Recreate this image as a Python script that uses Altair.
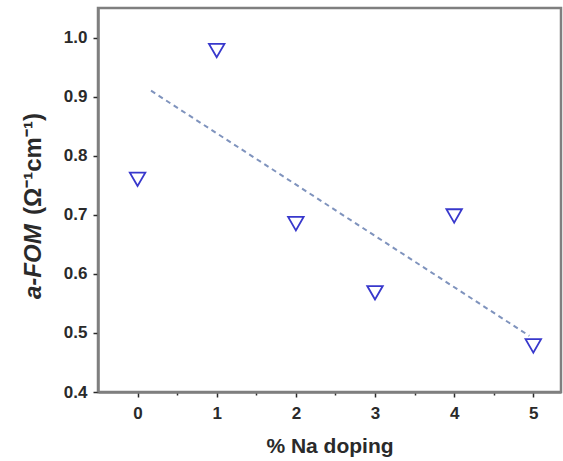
import altair as alt
import pandas as pd

# Data
na_doping = [0, 1, 2, 3, 4, 5]
a_fom = [0.760, 0.978, 0.685, 0.568, 0.698, 0.478]

trend_x = [0.17, 4.95]
trend_y = [0.910, 0.495]

x_tick_values = [0, 0.5, 1, 1.5, 2, 2.5, 3, 3.5, 4, 4.5, 5]
y_tick_values = [0.4, 0.45, 0.5, 0.55, 0.6, 0.65, 0.7, 0.75, 0.8, 0.85, 0.9, 0.95, 1.0]

x_title = "% Na doping"
y_title_italic = "a-FOM"
y_title_rest = "(Ω⁻¹cm⁻¹)"

pts = pd.DataFrame({"x": na_doping, "y": a_fom})
trend = pd.DataFrame({"x": trend_x, "y": trend_y})

FONT = "Liberation Sans"
AXIS_GRAY = "#7f7f7f"
LABEL = "#2a2a2a"

xscale = alt.Scale(domain=[-0.5, 5.35], nice=False, zero=False)
yscale = alt.Scale(domain=[0.4, 1.05], nice=False, zero=False)

xminor = "abs(datum.value - round(datum.value)) > 0.01"
yminor = "abs(datum.value*10 - round(datum.value*10)) > 0.01"

xaxis = alt.Axis(
    values=x_tick_values,
    labelExpr=f"{xminor} ? '' : format(datum.value, 'd')",
    tickSize={"condition": {"test": xminor, "value": 3}, "value": 5},
    tickColor=LABEL, tickWidth=1.5,
    domainColor=AXIS_GRAY, domainWidth=2.5,
    labelFont=FONT, labelFontSize=17, labelFontWeight="bold", labelColor=LABEL,
    labelPadding=8,
    title=x_title, titleFont=FONT, titleFontSize=21, titleFontWeight="bold",
    titleColor=LABEL, titlePadding=14,
    grid=False,
)
yaxis = alt.Axis(
    values=y_tick_values,
    labelExpr=f"{yminor} ? '' : format(datum.value, '.1f')",
    tickSize={"condition": {"test": yminor, "value": 3}, "value": 5},
    tickColor=LABEL, tickWidth=1.5,
    domainColor=AXIS_GRAY, domainWidth=2.5,
    labelFont=FONT, labelFontSize=17, labelFontWeight="bold", labelColor=LABEL,
    labelPadding=6,
    title=None,
    grid=False,
)

line = alt.Chart(trend).mark_line(
    color="#7f93bd", strokeWidth=2, strokeDash=[5, 4]
).encode(
    x=alt.X("x:Q", scale=xscale, axis=xaxis),
    y=alt.Y("y:Q", scale=yscale, axis=yaxis),
)

points = alt.Chart(pts).mark_point(
    shape="triangle-down", size=240, filled=False, color="#3838cc", strokeWidth=1.8, opacity=1
).encode(
    x=alt.X("x:Q", scale=xscale),
    y=alt.Y("y:Q", scale=yscale),
)

t1 = alt.Chart(pd.DataFrame({"t": [y_title_italic]})).mark_text(
    angle=270, align="left", baseline="middle", font=FONT, fontSize=24,
    fontWeight="bold", fontStyle="italic", color=LABEL
).encode(x=alt.value(-64), y=alt.value(291), text="t:N")

t2 = alt.Chart(pd.DataFrame({"t": [y_title_rest]})).mark_text(
    angle=270, align="left", baseline="middle", font=FONT, fontSize=24,
    fontWeight="bold", color=LABEL
).encode(x=alt.value(-64), y=alt.value(207), text="t:N")

chart = alt.layer(line, points, t1, t2).properties(
    width=463, height=384,
    autosize=alt.AutoSizeParams(type="none"),
    padding={"left": 98, "top": 8, "right": 2, "bottom": 69},
    background="white",
).configure_view(stroke=AXIS_GRAY, strokeWidth=2.5)

chart.save("out.html", embed_options={"renderer": "svg", "actions": False})
